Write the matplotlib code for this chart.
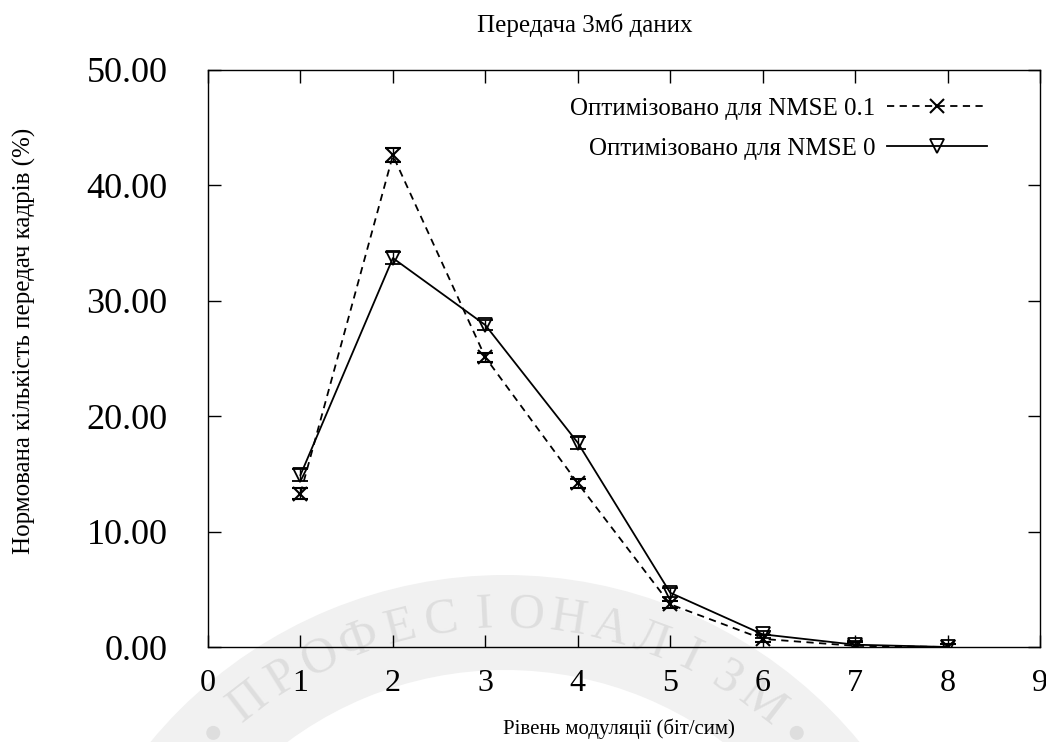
import matplotlib
matplotlib.use("Agg")
import numpy as np
import matplotlib.pyplot as plt
from matplotlib.ticker import FormatStrFormatter
from matplotlib.patches import Wedge, Circle

levels = [1, 2, 3, 4, 5, 6, 7, 8]
nmse01 = [13.3, 42.6, 25.1, 14.2, 3.7, 0.7, 0.1, 0.0]
nmse01_err = [0.5, 0.6, 0.4, 0.4, 0.3, 0.3, 0.3, 0.3]
nmse0 = [14.9, 33.7, 27.9, 17.7, 4.7, 1.1, 0.2, 0.0]
nmse0_err = [0.5, 0.5, 0.4, 0.5, 0.4, 0.3, 0.3, 0.3]

title = "Передача 3мб даних"
xlabel = "Рівень модуляції (біт/сим)"
ylabel = "Нормована кількість передач кадрів (%)"
label01 = "Оптимізовано для NMSE 0.1"
label0 = "Оптимізовано для NMSE 0"
watermark = "ПРОФЕСІОНАЛІЗМ"

plt.rcParams['font.family'] = ['Liberation Serif', 'DejaVu Serif']

fig = plt.figure(figsize=(10.46, 7.42), dpi=100)

# faint background seal (watermark)
bg = fig.add_axes([0, 0, 1, 1], zorder=-1)
bg.set_xlim(0, 1046)
bg.set_ylim(742, 0)
bg.axis('off')
cx, cy, r = 505, 1035, 420
bg.add_patch(Wedge((cx, cy), 460, 0, 360, width=95, facecolor='#f1f1f1', edgecolor='none'))
step = 5.8
n = len(watermark)
for i, ch in enumerate(watermark):
    th = (i - (n - 1) / 2) * step
    t = np.radians(th)
    bg.text(cx + r * np.sin(t), cy - r * np.cos(t), ch, rotation=-th,
            ha='center', va='center', fontsize=36, color='#dedede')
for th in (-44, 44):
    t = np.radians(th)
    bg.add_patch(Circle((cx + r * np.sin(t), cy - r * np.cos(t)), 7, facecolor='#dedede', edgecolor='none'))

ax = fig.add_axes([208/1046, (742-647)/742, (1040-208)/1046, (647-70)/742])
ax.set_facecolor('none')

ax.errorbar(levels, nmse01, yerr=nmse01_err, color='black', linestyle=(0, (4, 3)),
            linewidth=1.3, marker='x', markersize=10, markeredgewidth=1.5,
            capsize=6, elinewidth=1.0, capthick=1.0, label=label01)
ax.errorbar(levels, nmse0, yerr=nmse0_err, color='black', linestyle='-',
            linewidth=1.3, marker='v', markersize=10, markerfacecolor='none',
            markeredgewidth=1.3, capsize=6, elinewidth=1.0, capthick=1.0, label=label0)

ax.set_xlim(0, 9)
ax.set_ylim(0, 50)
ax.set_xticks(range(0, 10))
ax.set_yticks([0, 10, 20, 30, 40, 50])
ax.yaxis.set_major_formatter(FormatStrFormatter('%.2f'))
ax.tick_params(direction='in', length=9, width=1, top=True, right=True)
ax.tick_params(axis='y', pad=29, labelsize=26)
ax.tick_params(axis='x', pad=16, labelsize=23)
for s in ax.spines.values():
    s.set_linewidth(1.0)

h, l = ax.get_legend_handles_labels()
h = [hh[0] if hasattr(hh, '__getitem__') else hh for hh in h]
leg = ax.legend(h, l, loc='upper right', markerfirst=False, frameon=False, fontsize=18,
                handlelength=4.0, handletextpad=0.45, borderaxespad=0.0, labelspacing=0.72,
                bbox_to_anchor=(997/1046, 1 - 87/742), bbox_transform=fig.transFigure)

fig.text(585/1046, 1 - 25/742, title, ha='center', va='center', fontsize=18)
fig.text(619/1046, 1 - 729/742, xlabel, ha='center', va='center', fontsize=15)
fig.text(24/1046, 1 - 341/742, ylabel, ha='center', va='center', rotation=90, fontsize=18)

fig.savefig("out.png", dpi=100)
